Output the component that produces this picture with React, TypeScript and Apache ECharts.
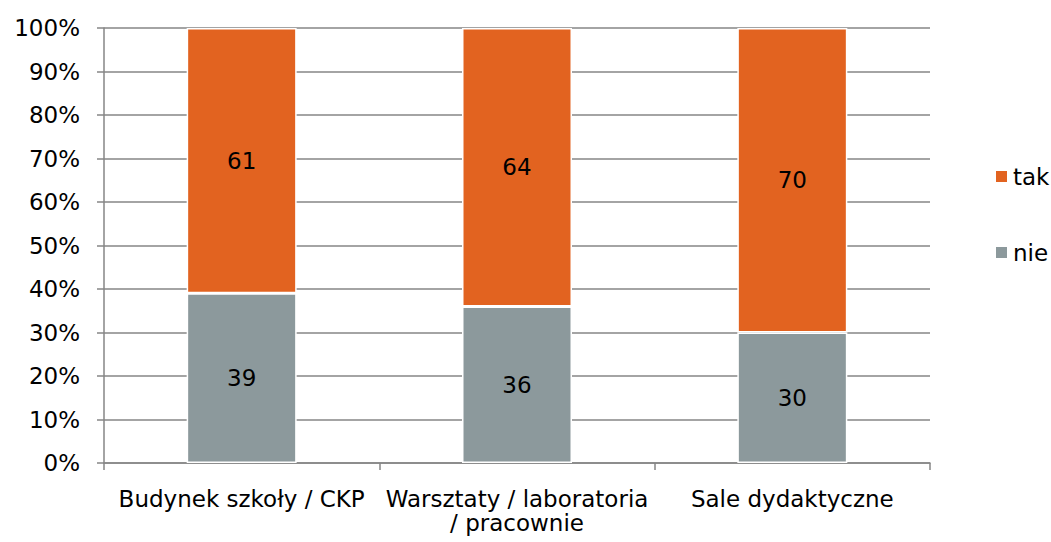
import React, { useEffect, useRef } from "react";
import * as echarts from "echarts";

const categories = ["Budynek szkoły / CKP", "Warsztaty / laboratoria\n/ pracownie", "Sale dydaktyczne"];
const nieValues = [39, 36, 30];
const takValues = [61, 64, 70];
const yTicks = [0, 10, 20, 30, 40, 50, 60, 70, 80, 90, 100];

export default function App() {
  const ref = useRef<HTMLDivElement>(null);
  useEffect(() => {
    document.body.style.margin = "0";
    document.body.style.overflow = "hidden";
    if (!ref.current) return;
    const chart = echarts.init(ref.current, null, { renderer: "svg" });
    const font = "DejaVu Sans";
    const fs = 23;
    const legendText = { fontFamily: font, fontSize: fs, color: "#000" };
    chart.setOption({
      animation: false,
      textStyle: { fontFamily: font },
      grid: { left: 104, right: 121, top: 28, bottom: 79, containLabel: false },
      legend: [
        {
          orient: "vertical",
          left: 989,
          top: 160,
          data: ["tak"],
          itemWidth: 13,
          itemHeight: 13,
          itemGap: 5,
          icon: "rect",
          textStyle: legendText,
        },
        {
          orient: "vertical",
          left: 989,
          top: 236,
          data: ["nie"],
          itemWidth: 13,
          itemHeight: 13,
          icon: "rect",
          textStyle: legendText,
        },
      ],
      xAxis: {
        type: "category",
        data: categories,
        axisLine: { lineStyle: { color: "#868686", width: 1.5 } },
        axisTick: { show: true, length: 7, lineStyle: { color: "#868686", width: 1.5 } },
        axisLabel: { fontFamily: font, fontSize: fs, color: "#000", margin: 24, lineHeight: 24, interval: 0 },
      },
      yAxis: {
        type: "value",
        min: 0,
        max: 100,
        interval: 10,
        axisLine: { show: true, lineStyle: { color: "#868686", width: 1.5 } },
        axisTick: { show: true, length: 7, lineStyle: { color: "#868686", width: 1.5 } },
        axisLabel: { formatter: (v: number) => (yTicks.includes(v) ? v + "%" : ""), fontFamily: font, fontSize: fs, color: "#000", margin: 24 },
        splitLine: { show: true, lineStyle: { color: "#868686", width: 1.5 } },
      },
      series: [
        {
          name: "nie",
          type: "bar",
          stack: "total",
          barWidth: 110,
          data: nieValues,
          itemStyle: { color: "#8C999C", borderColor: "#fff", borderWidth: 1.5 },
          label: { show: true, position: "inside", fontFamily: font, fontSize: fs, color: "#000" },
        },
        {
          name: "tak",
          type: "bar",
          stack: "total",
          barWidth: 110,
          data: takValues,
          itemStyle: { color: "#E26320", borderColor: "#fff", borderWidth: 1.5 },
          label: { show: true, position: "inside", fontFamily: font, fontSize: fs, color: "#000" },
        },
      ],
    });
    return () => chart.dispose();
  }, []);
  return <div ref={ref} style={{ width: 1051, height: 542 }} />;
}
